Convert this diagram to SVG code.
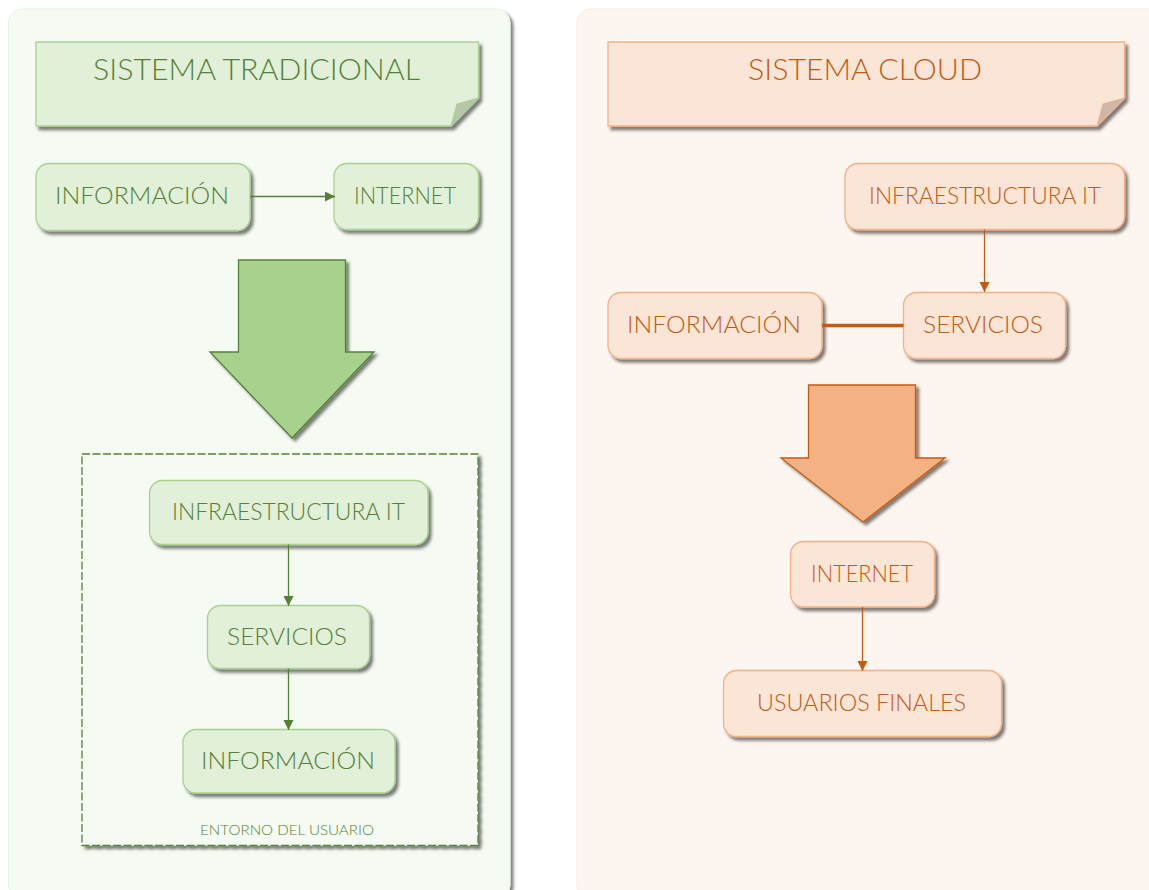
<svg xmlns="http://www.w3.org/2000/svg" width="1149" height="890" viewBox="0 0 1149 890">
<defs>
<filter id="sh" x="-10%" y="-10%" width="125%" height="125%"><feDropShadow dx="3" dy="3.500" stdDeviation="1.800" flood-color="#000" flood-opacity="0.5"/></filter>
<filter id="shp" x="-5%" y="-5%" width="110%" height="110%"><feDropShadow dx="3" dy="3" stdDeviation="1.800" flood-color="#000" flood-opacity="0.5"/></filter>
<marker id="ag" markerUnits="userSpaceOnUse" markerWidth="11" markerHeight="11" refX="10" refY="5" orient="auto"><path d="M0 0L10 5L0 10Z" fill="#548235"/></marker>
<marker id="ao" markerUnits="userSpaceOnUse" markerWidth="11" markerHeight="11" refX="10" refY="5" orient="auto"><path d="M0 0L10 5L0 10Z" fill="#c55a11"/></marker>
</defs>
<style>
text{font-family:"Lato","Liberation Sans",sans-serif;text-anchor:start;font-weight:300}
.g{fill:#e2efd9;stroke:#a9d18e;stroke-width:1.3;filter:url(#sh)}
.o{fill:#fbe5d6;stroke:#f4b183;stroke-width:1.3;filter:url(#sh)}
.gt{fill:#548235}
.ot{fill:#c55a11}
.lb{font-size:24px}
.tt{font-size:30px}
.lg{stroke:#548235;stroke-width:1.3;fill:none;marker-end:url(#ag)}
.lo{stroke:#c55a11;stroke-width:1.3;fill:none;marker-end:url(#ao)}
</style>
<rect width="1149" height="890" fill="#fff"/>
<g id="panel-tradicional"><rect x="8.500" y="9" width="501.500" height="890" rx="14" fill="#f5faf3" stroke="#e8f1e3" filter="url(#shp)"/></g>
<g id="panel-cloud"><rect x="577" y="9" width="590" height="890" rx="14" fill="#fdf5ef" stroke="#fbe9dc"/></g>
<g id="title-tradicional">
<path class="g" d="M36 42H478.500V98L451 126H36Z"/>
<path d="M451 126L457 104L478.500 98Z" fill="#b5c6a9" stroke="#a9d18e"/>
<text class="gt tt" x="93" y="80" textLength="327" lengthAdjust="spacingAndGlyphs">SISTEMA TRADICIONAL</text>
</g>
<g id="title-cloud">
<path class="o" d="M608 42H1124.500V98L1097 126H608Z"/>
<path d="M1097 126L1103 104L1124.500 98Z" fill="#ccb8aa" stroke="#f4b183"/>
<text class="ot tt" x="748" y="80" textLength="234" lengthAdjust="spacingAndGlyphs">SISTEMA CLOUD</text>
</g>
<g id="entorno">
<rect x="82" y="454" width="396" height="391.500" fill="#f5faf3" stroke="#548235" stroke-width="1.300" stroke-dasharray="8 2.500" filter="url(#shp)"/>
<text class="gt" x="200" y="835" font-size="14" textLength="174" lengthAdjust="spacingAndGlyphs">ENTORNO  DEL USUARIO</text>
</g>
<g id="arrow-green"><path d="M238.500 260H345.500V352H374L292 438L210 352H238.500Z" fill="#a9d18e" stroke="#548235" stroke-width="1.300" filter="url(#shp)"/></g>
<g id="arrow-orange"><path d="M808.500 385H915.500V458H945L863 522L781 458H808.500Z" fill="#f4b183" stroke="#c55a11" stroke-width="1.300" filter="url(#shp)"/></g>
<g id="g-informacion"><rect class="g" x="36" y="163.500" width="214" height="67" rx="13"/><text class="gt lb" x="55" y="204" textLength="174" lengthAdjust="spacingAndGlyphs">INFORMACIÓN</text></g>
<g id="g-internet"><rect class="g" x="334" y="163.500" width="144.500" height="66" rx="13"/><text class="gt lb" x="354" y="204" textLength="102" lengthAdjust="spacingAndGlyphs">INTERNET</text></g>
<g id="g-infra"><rect class="g" x="149.500" y="480.500" width="278.500" height="64" rx="13"/><text class="gt lb" x="172" y="520" textLength="233" lengthAdjust="spacingAndGlyphs">INFRAESTRUCTURA IT</text></g>
<g id="g-servicios"><rect class="g" x="207.500" y="605.500" width="162" height="63" rx="13"/><text class="gt lb" x="227" y="645" textLength="120" lengthAdjust="spacingAndGlyphs">SERVICIOS</text></g>
<g id="g-informacion2"><rect class="g" x="183" y="729.500" width="212" height="63.500" rx="13"/><text class="gt lb" x="201" y="769" textLength="174" lengthAdjust="spacingAndGlyphs">INFORMACIÓN</text></g>
<g id="o-infra"><rect class="o" x="845" y="163.500" width="279.500" height="66" rx="13"/><text class="ot lb" x="869" y="204" textLength="232" lengthAdjust="spacingAndGlyphs">INFRAESTRUCTURA IT</text></g>
<g id="o-informacion"><rect class="o" x="608" y="292.500" width="214" height="66" rx="13"/><text class="ot lb" x="627" y="333" textLength="174" lengthAdjust="spacingAndGlyphs">INFORMACIÓN</text></g>
<g id="o-servicios"><rect class="o" x="903.500" y="292.500" width="162" height="66" rx="13"/><text class="ot lb" x="923" y="333" textLength="120" lengthAdjust="spacingAndGlyphs">SERVICIOS</text></g>
<g id="o-internet"><rect class="o" x="790.500" y="541.500" width="144" height="65.500" rx="13"/><text class="ot lb" x="811" y="582" textLength="102" lengthAdjust="spacingAndGlyphs">INTERNET</text></g>
<g id="o-usuarios"><rect class="o" x="723.500" y="670.500" width="278" height="66" rx="13"/><text class="ot lb" x="757" y="711" textLength="209" lengthAdjust="spacingAndGlyphs">USUARIOS FINALES</text></g>
<g id="connectors">
<path class="lg" d="M250 196.500H335"/>
<path class="lg" d="M288.500 544.500V606"/>
<path class="lg" d="M288.500 668.500V730"/>
<path class="lo" d="M984.500 229.500V292"/>
<path d="M822 325.500H903.500" stroke="#c55a11" stroke-width="3.500" fill="none"/>
<path class="lo" d="M862.500 607V671"/>
</g>
</svg>
